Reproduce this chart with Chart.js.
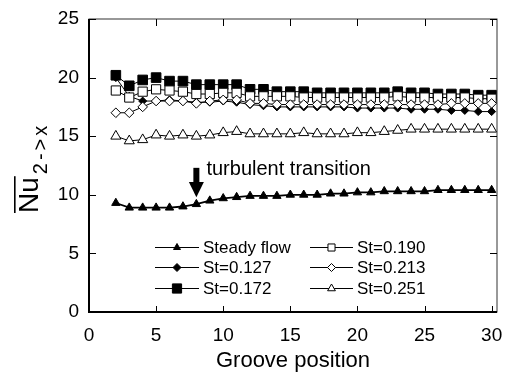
<!DOCTYPE html>
<html>
<head>
<meta charset="utf-8">
<script src="https://cdn.jsdelivr.net/npm/chart.js@4/dist/chart.umd.min.js"></script>
<style>
  html, body { margin: 0; padding: 0; background: #fff; }
  #wrap { width: 510px; height: 378px; }
</style>
</head>
<body>
<div id="wrap"><canvas id="c" width="510" height="378"></canvas></div>
<script>
const FONT = "'Liberation Sans', Arial, Helvetica, sans-serif";

// groove positions 2..30
const groove = [2, 3, 4, 5, 6, 7, 8, 9, 10, 11, 12, 13, 14, 15, 16, 17, 18, 19, 20, 21, 22, 23, 24, 25, 26, 27, 28, 29, 30];

const steadyFlow = [9.3, 8.9, 8.9, 8.9, 8.9, 9.0, 9.2, 9.5, 9.7, 9.8, 9.9, 9.9, 9.9, 10.0, 10.0, 10.0, 10.1, 10.1, 10.2, 10.2, 10.3, 10.3, 10.3, 10.3, 10.4, 10.4, 10.4, 10.4, 10.4];
const st127 = [20.0, 18.4, 18.0, 18.0, 18.1, 18.0, 17.9, 17.9, 18.0, 17.9, 17.7, 17.6, 17.5, 17.5, 17.5, 17.5, 17.5, 17.5, 17.4, 17.4, 17.4, 17.4, 17.3, 17.3, 17.3, 17.2, 17.2, 17.1, 17.1];
const st172 = [20.2, 19.3, 19.8, 20.0, 19.7, 19.7, 19.4, 19.4, 19.4, 19.4, 19.0, 19.0, 18.8, 18.8, 18.8, 18.7, 18.7, 18.7, 18.7, 18.7, 18.7, 18.8, 18.7, 18.7, 18.6, 18.6, 18.6, 18.5, 18.5];
const st190 = [18.9, 18.3, 18.8, 19.0, 18.9, 18.8, 18.6, 18.6, 18.7, 18.7, 18.4, 18.4, 18.4, 18.4, 18.3, 18.3, 18.3, 18.3, 18.3, 18.3, 18.3, 18.4, 18.3, 18.3, 18.3, 18.3, 18.3, 18.2, 18.2];
const st213 = [17.0, 17.0, 17.5, 18.0, 18.0, 18.0, 17.8, 18.0, 18.1, 18.1, 17.8, 17.8, 17.7, 17.7, 17.7, 17.7, 17.7, 17.7, 17.7, 17.7, 17.7, 17.7, 17.7, 17.7, 17.7, 17.8, 17.8, 17.8, 17.8];
const st251 = [15.0, 14.6, 14.7, 15.1, 15.0, 15.1, 15.0, 15.1, 15.3, 15.4, 15.2, 15.2, 15.2, 15.2, 15.3, 15.2, 15.2, 15.2, 15.3, 15.3, 15.4, 15.5, 15.6, 15.6, 15.6, 15.6, 15.6, 15.6, 15.6];

const xTicks = [0, 5, 10, 15, 20, 25, 30];
const yTicks = [0, 5, 10, 15, 20, 25];

const seriesLabels = ["Steady flow", "St=0.127", "St=0.172", "St=0.190", "St=0.213", "St=0.251"];

function pts(vals) {
  return groove.map((g, i) => ({ x: g, y: vals[i] }));
}

function ds(label, vals, style, fill, radius, lineW, order, legendR) {
  return {
    label: label,
    data: pts(vals),
    borderColor: "#000",
    borderWidth: lineW,
    pointStyle: style,
    pointRadius: radius,
    pointBackgroundColor: fill,
    pointBorderColor: "#000",
    pointBorderWidth: 1,
    showLine: true,
    tension: 0,
    order: order,
    legendR: legendR
  };
}

const datasets = [
  ds(seriesLabels[0], steadyFlow, "triangle", "#000", 4.8, 1.8, 6, 4),
  ds(seriesLabels[1], st127, "rectRot", "#000", 4, 1, 5, 4),
  ds(seriesLabels[2], st172, "rect", "#000", 6.8, 1, 4, 6.5),
  ds(seriesLabels[3], st190, "rect", "#fff", 6.5, 1, 3, 5),
  ds(seriesLabels[4], st213, "rectRot", "#fff", 4.8, 1, 2, 4),
  ds(seriesLabels[5], st251, "triangle", "#fff", 5.8, 1, 1, 4.5)
];

const decor = {
  id: "decor",
  afterDatasetsDraw(chart) {
    const ctx = chart.ctx;
    const a = chart.chartArea;
    const xs = chart.scales.x, ys = chart.scales.y;
    ctx.save();

    // frame
    ctx.strokeStyle = "#333";
    ctx.lineWidth = 1;
    ctx.strokeRect(a.left, a.top, a.right - a.left, a.bottom - a.top);
    ctx.strokeStyle = "#000";
    ctx.lineWidth = 2;
    ctx.beginPath();
    ctx.moveTo(a.left, a.top); ctx.lineTo(a.left, a.bottom); ctx.lineTo(a.right, a.bottom);
    ctx.stroke();

    // inward ticks
    ctx.lineWidth = 1;
    ctx.strokeStyle = "#000";
    yTicks.forEach(v => {
      const y = Math.round(ys.getPixelForValue(v)) + 0.5;
      ctx.beginPath();
      ctx.moveTo(a.left, y); ctx.lineTo(a.left + 7, y);
      ctx.moveTo(a.right, y); ctx.lineTo(a.right - 7, y);
      ctx.stroke();
    });
    xTicks.forEach(v => {
      const x = Math.round(xs.getPixelForValue(v)) + 0.5;
      ctx.beginPath();
      ctx.moveTo(x, a.bottom); ctx.lineTo(x, a.bottom - 6);
      ctx.moveTo(x, a.top); ctx.lineTo(x, a.top + 7);
      ctx.stroke();
    });

    // annotation arrow + text
    const ax = xs.getPixelForValue(8);
    const yTop = ys.getPixelForValue(12.3);
    const yBase = ys.getPixelForValue(11.1);
    const yTip = ys.getPixelForValue(9.8);
    ctx.fillStyle = "#000";
    ctx.fillRect(ax - 3, yTop, 6, yBase - yTop + 1);
    ctx.beginPath();
    ctx.moveTo(ax - 7.5, yBase); ctx.lineTo(ax + 7.5, yBase); ctx.lineTo(ax, yTip);
    ctx.closePath(); ctx.fill();
    ctx.font = "20px " + FONT;
    ctx.textAlign = "left";
    ctx.textBaseline = "alphabetic";
    ctx.fillText("turbulent transition", xs.getPixelForValue(8.75), ys.getPixelForValue(11.7));

    // legend
    const rows = [247.5, 267.5, 288.5];
    const cols = [{ l0: 155, l1: 199, t: 203 }, { l0: 310, l1: 353, t: 357 }];
    ctx.font = "17px " + FONT;
    ctx.textBaseline = "middle";
    chart.data.datasets.forEach((d, i) => {
      const c = cols[Math.floor(i / 3)];
      const y = rows[i % 3];
      ctx.strokeStyle = "#000";
      ctx.lineWidth = 1;
      ctx.beginPath(); ctx.moveTo(c.l0, y); ctx.lineTo(c.l1, y); ctx.stroke();
      ctx.fillStyle = d.pointBackgroundColor;
      Chart.helpers.drawPoint(ctx, { pointStyle: d.pointStyle, radius: d.legendR, rotation: 0, borderWidth: 1 }, (c.l0 + c.l1) / 2, y);
      ctx.fillStyle = "#000";
      ctx.fillText(d.label, c.t, y + 1);
    });

    // y-axis title: Nu with overline and subscript
    ctx.translate(38, 213);
    ctx.rotate(-Math.PI / 2);
    ctx.textBaseline = "alphabetic";
    ctx.font = "28px " + FONT;
    const w = ctx.measureText("Nu").width;
    ctx.fillText("Nu", 0, 0);
    ctx.fillRect(0, -24, w + 1, 1.6);
    ctx.font = "20px " + FONT;
    ctx.letterSpacing = "3px";
    ctx.fillText("2->x", w + 3, 9);
    ctx.letterSpacing = "0px";

    ctx.restore();
  }
};

new Chart(document.getElementById("c"), {
  type: "scatter",
  data: { datasets: datasets },
  options: {
    responsive: false,
    animation: false,
    layout: { padding: { left: 0, right: 13, top: 19, bottom: 0 } },
    plugins: { legend: { display: false }, tooltip: { enabled: false } },
    scales: {
      x: {
        type: "linear",
        min: 0,
        max: 30.4,
        afterFit: s => { s.height = 66; s.paddingLeft = 0; s.paddingRight = 0; },
        grid: { display: false, drawTicks: false },
        border: { display: false },
        ticks: { stepSize: 5, includeBounds: false, color: "#000", padding: 12, font: { family: FONT, size: 19 } },
        title: { display: true, text: "Groove position", color: "#000", padding: { top: 7 }, font: { family: FONT, size: 22 } }
      },
      y: {
        min: 0,
        max: 25,
        afterFit: s => { s.width = 89; s.paddingTop = 0; s.paddingBottom = 0; },
        grid: { display: false, drawTicks: false },
        border: { display: false },
        ticks: { stepSize: 5, color: "#000", padding: 10, font: { family: FONT, size: 19 } }
      }
    }
  },
  plugins: [decor]
});
</script>
</body>
</html>
